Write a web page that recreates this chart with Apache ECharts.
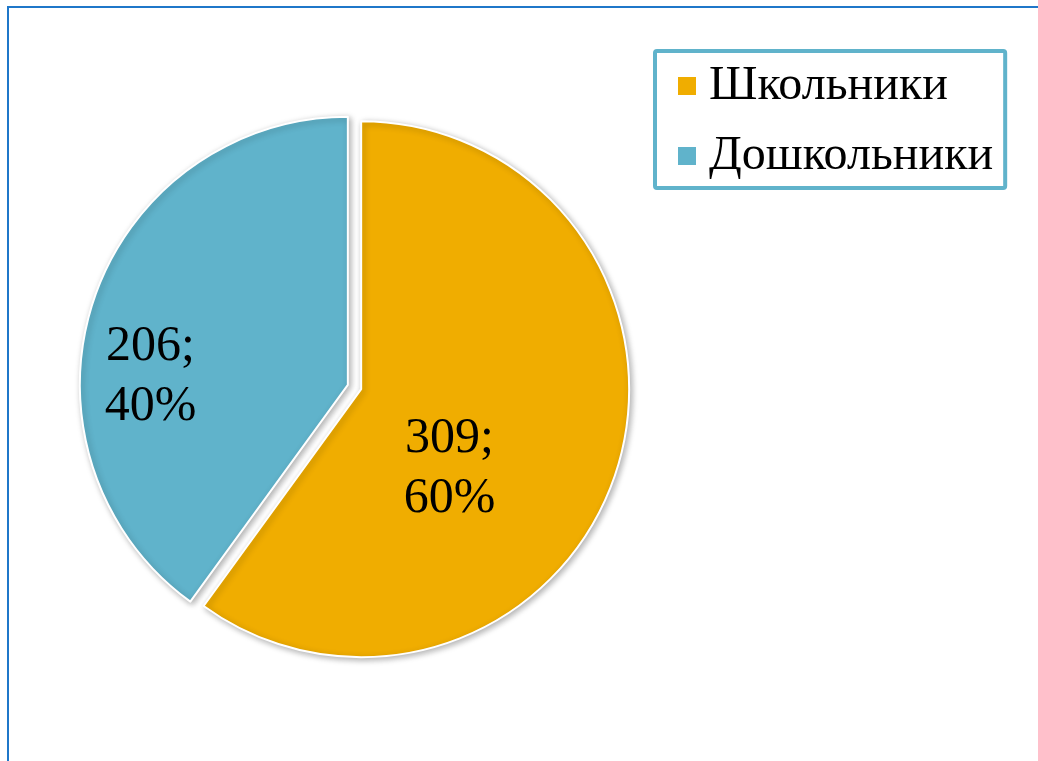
<!DOCTYPE html>
<html>
<head>
<meta charset="utf-8">
<script src="https://cdn.jsdelivr.net/npm/echarts@6/dist/echarts.min.js"></script>
<style>
  html, body { margin: 0; padding: 0; background: #fff; }
  #chart { width: 1038px; height: 761px; }
</style>
</head>
<body>
<div id="chart"></div>
<script>
const categories = ["Школьники", "Дошкольники"];
const values = [309, 206];
const colors = ["#F0AD00", "#60B3CB"];
// right padding and top spacer height used to nudge the inside labels
const labelPadRight = [84, 134];
const labelSpacer = [74, 68];

const serif = "'Liberation Serif', 'Times New Roman', serif";

const data = categories.map(function (name, i) {
  return {
    name: name,
    value: values[i],
    selected: true,
    itemStyle: { color: colors[i] },
    label: {
      padding: [0, labelPadRight[i], 0, 0],
      rich: { s: { lineHeight: labelSpacer[i], fontSize: 10 } }
    }
  };
});

const chart = echarts.init(document.getElementById("chart"));
const option = {
  animation: false,
  graphic: [
    {
      type: "rect",
      shape: { x: 8, y: 7, width: 1200, height: 900 },
      style: { fill: "none", stroke: "#1f77c9", lineWidth: 2 },
      silent: true
    }
  ],
  legend: {
    orient: "vertical",
    left: 655,
    top: 51,
    padding: [7, 12, 4, 21],
    itemWidth: 20,
    itemHeight: 20,
    itemGap: 14,
    icon: "rect",
    borderColor: "#60B3CB",
    borderWidth: 4,
    borderRadius: 2,
    selectedMode: false,
    textStyle: {
      fontFamily: serif,
      fontSize: 48,
      lineHeight: 56,
      color: "#000",
      padding: [0, 0, 0, 7]
    },
    data: categories
  },
  series: [
    {
      type: "pie",
      center: [354.5, 387],
      radius: 268,
      startAngle: 90,
      clockwise: true,
      selectedMode: "multiple",
      selectedOffset: 7,
      silent: true,
      emphasis: { disabled: true },
      itemStyle: {
        borderColor: "#fff",
        borderWidth: 2,
        shadowBlur: 6,
        shadowColor: "rgba(0,0,0,0.3)",
        shadowOffsetX: 2,
        shadowOffsetY: 2
      },
      label: {
        show: true,
        position: "inside",
        formatter: "{s| }\n{c};\n{d}%",
        fontFamily: serif,
        fontSize: 50,
        lineHeight: 60,
        color: "#000"
      },
      labelLine: { show: false },
      data: data
    }
  ]
};
chart.setOption(option);
</script>
</body>
</html>
